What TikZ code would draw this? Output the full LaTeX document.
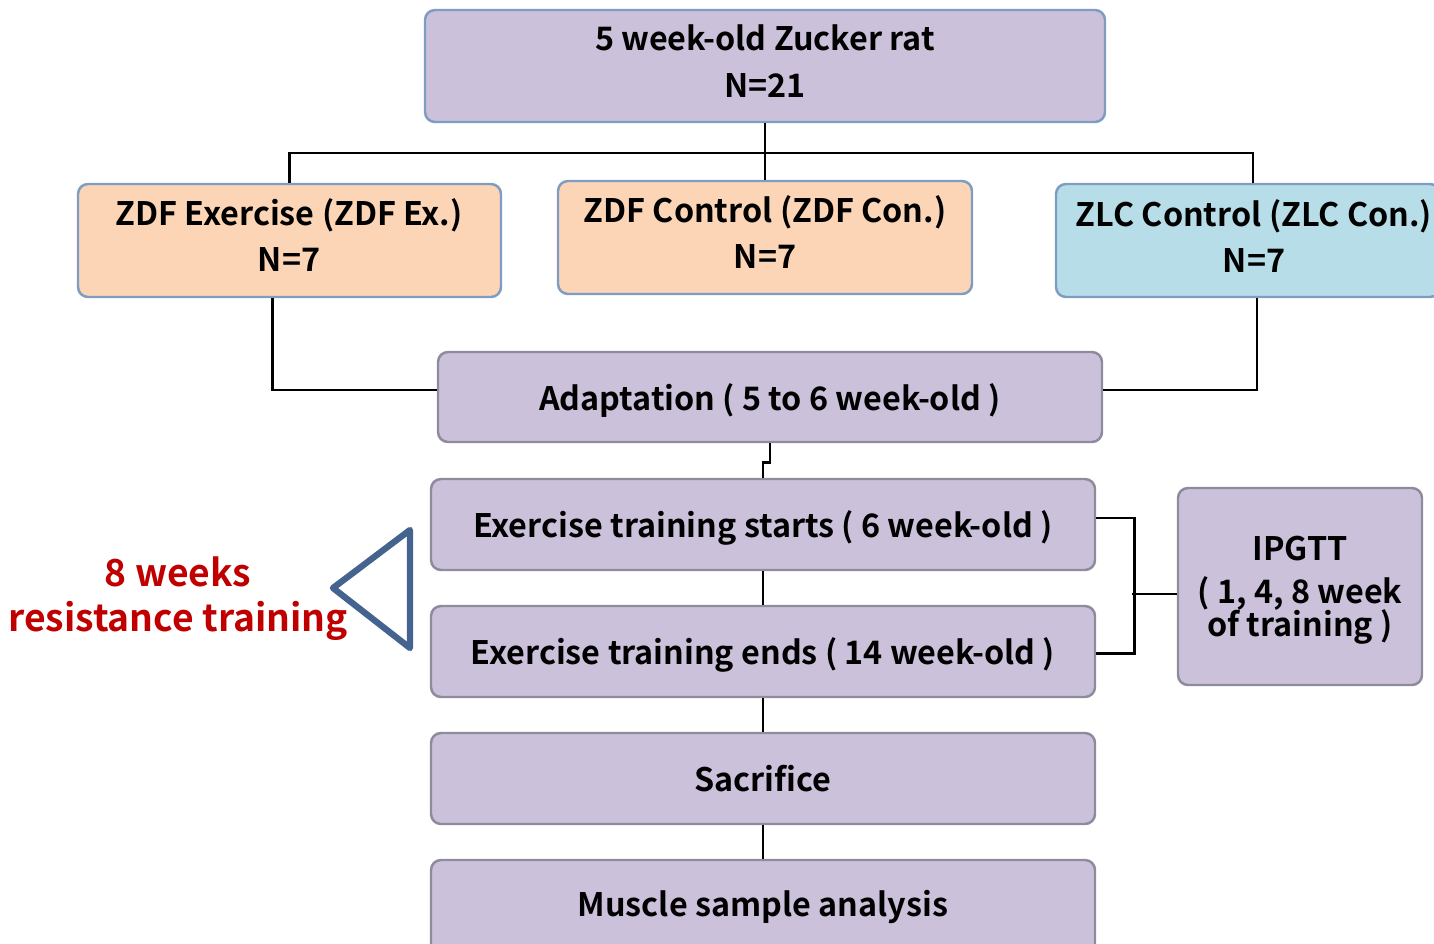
\documentclass[tikz,border=0pt]{standalone}
\usepackage{fontspec}
\setmainfont{Noto Sans CJK KR}[BoldFont={Noto Sans CJK KR Bold}]
\usetikzlibrary{positioning}
\usepackage{xcolor}
\definecolor{lav}{HTML}{CCC1DA}
\definecolor{lavline}{HTML}{8E8B9C}
\definecolor{peach}{HTML}{FBD5B5}
\definecolor{sky}{HTML}{B7DDE8}
\definecolor{boxline}{HTML}{7F9CC2}
\definecolor{tri}{HTML}{44648F}
\definecolor{redtxt}{HTML}{C00000}

\begin{document}
\begin{tikzpicture}[x=1cm,y=1cm,
  font=\bfseries\fontsize{9.2}{13.2}\selectfont,
  box/.style={draw=lavline, fill=lav, rounded corners=0.1cm, line width=0.7pt,
    align=center, inner sep=0pt, text depth=0pt},
  topbox/.style={box, draw=boxline},
  grpbox/.style={box, draw=boxline, fill=peach},
  boxtext/.style={align=center, inner sep=0pt},
  link/.style={draw=black, line width=0.8pt}]
\useasboundingbox (0,0) rectangle (14.34,-9.44);

\node[topbox, minimum width=6.8cm, minimum height=1.12cm] (rat) at (7.65,-0.66) {};
\node[boxtext] (rattxt) at (7.65,-0.61) {5 week-old Zucker rat\\N=21};
\node[grpbox, minimum width=4.23cm, minimum height=1.13cm] (zex) at (2.895,-2.405) {};
\node[boxtext] (zextxt) at (2.89,-2.35) {ZDF Exercise (ZDF Ex.)\\N=7};
\node[grpbox, minimum width=4.14cm, minimum height=1.13cm] (zcon) at (7.65,-2.375) {};
\node[boxtext] (zcontxt) at (7.65,-2.32) {ZDF Control (ZDF Con.)\\N=7};
\node[grpbox, fill=sky, minimum width=3.84cm, minimum height=1.13cm] (zlc) at (12.48,-2.405) {};
\node[boxtext] (zlctxt) at (12.54,-2.36) {ZLC Control (ZLC Con.)\\N=7};

\node[box, minimum width=6.64cm, minimum height=0.9cm] (adapt) at (7.70,-3.97)
  {Adaptation ( 5 to 6 week-old )};
\node[box, minimum width=6.64cm, minimum height=0.91cm] (exst) at (7.63,-5.245)
  {Exercise training starts ( 6 week-old )};
\node[box, minimum width=6.64cm, minimum height=0.91cm] (exend) at (7.63,-6.515)
  {Exercise training ends ( 14 week-old )};
\node[box, minimum width=6.64cm, minimum height=0.91cm] (sac) at (7.63,-7.785)
  {Sacrifice};
\node[box, minimum width=6.64cm, minimum height=1.2cm] (muscle) at (7.63,-9.2) {};
\node[boxtext] (mtxt) at (7.63,-9.07) {Muscle sample analysis};
\node[box, minimum width=2.44cm, minimum height=1.97cm] (ipgtt) at (13.0,-5.865) {};
\node[boxtext] (ipgtttxt) at (13.0,-5.90)
  {IPGTT\\[-0.8pt]( 1, 4, 8 week\\[-4pt]of training )};

\node[text=redtxt, align=center, font=\bfseries\fontsize{10.6}{12.8}\selectfont] (eight) at (1.78,-5.985)
  {8 weeks\\resistance training};

% connectors
\coordinate (bus) at (7.65,-1.53);
\draw[link] (rat.south) -- (zcon.north);
\draw[link] (zex.north) |- (bus) -| ([xshift=0.05cm]zlc.north);
\draw[link] ([xshift=-0.17cm]zex.south) |- ([yshift=0.07cm]adapt.west);
\draw[link] ([xshift=0.09cm]zlc.south) |- ([yshift=0.07cm]adapt.east);
\draw[link] (adapt.south) -- ++(0,-0.19) -| (exst.north);
\draw[link] (exst.south) -- (exend.north);
\draw[link] (exend.south) -- (sac.north);
\draw[link] (sac.south) -- (muscle.north);
\draw[link] ([yshift=0.065cm]exst.east) -- ++(0.38,0) |- ([yshift=-0.02cm]exend.east);
\draw[link] ([yshift=-0.075cm]ipgtt.west) -- ++(-0.45,0);

% bracket triangle
\draw[tri, line width=1.8pt, line join=round] (4.10,-5.30) -- (3.33,-5.88) -- (4.10,-6.48) -- cycle;
\end{tikzpicture}
\end{document}
